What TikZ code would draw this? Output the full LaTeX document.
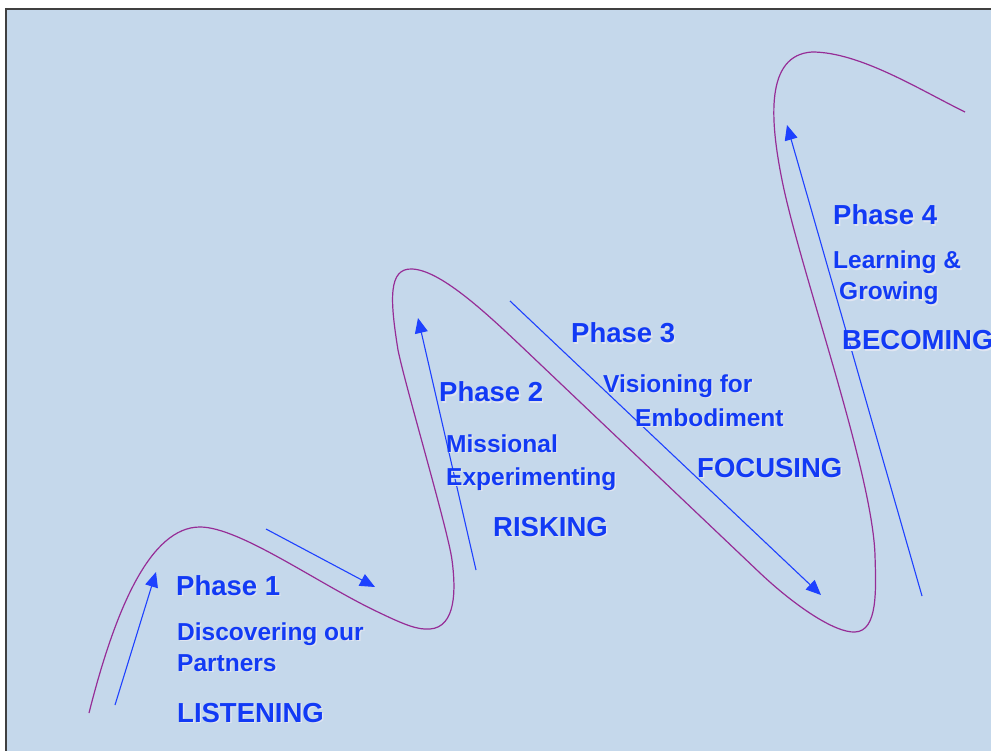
\documentclass[tikz,border=0pt]{standalone}
\usepackage{fontspec}
\setmainfont{Liberation Sans}
\usetikzlibrary{arrows.meta}

\definecolor{panelbg}{RGB}{197,216,235}
\definecolor{inkblue}{RGB}{18,58,245}
\definecolor{flowblue}{RGB}{30,65,255}
\definecolor{pathpurple}{RGB}{150,45,150}
\definecolor{glow}{RGB}{224,229,240}
\definecolor{framegray}{RGB}{64,64,64}

% text with a soft light drop shadow
\newcommand{\shadowed}[1]{\makebox[0pt][l]{\hspace{1.4pt}\raisebox{-1.4pt}{\textcolor{glow}{#1}}}#1}

\tikzset{
  phase/.style={anchor=base west, inner sep=0pt, text=inkblue,
    font=\fontsize{27.5}{30}\selectfont\bfseries},
  detail/.style={phase, font=\fontsize{24.5}{28}\selectfont\bfseries},
  keyword/.style={phase},
  flow/.style={draw=flowblue, line width=1.1pt,
    -{Triangle[length=15pt,width=13pt]}},
  wave/.style={draw=pathpurple, line width=1.2pt},
}

\begin{document}
\begin{tikzpicture}[x=1pt,y=-1pt]
  \useasboundingbox (0,0) rectangle (991,751);
  \clip (0,0) rectangle (991,751);
  \fill[white] (0,0) rectangle (991,751);
  \fill[panelbg] (7,9.5) rectangle (991,751);
  \draw[framegray, line width=1.6pt] (5,8.8) -- (991,8.8);
  \draw[framegray, line width=2pt] (6,8) -- (6,751);

  % the rising wave through the four phases
  \draw[wave] (89,713)
    .. controls (115,610) and (150,527) .. (200,527)
    .. controls (240,527) and (320,585) .. (380,613)
    .. controls (405,625) and (418,630) .. (430,629)
    .. controls (456,627) and (456,590) .. (452,560)
    .. controls (448,530) and (405,385) .. (398,350)
    .. controls (390,300) and (388,268) .. (412,269)
    .. controls (440,270) and (485,312) .. (520,345)
    -- (760,573)
    .. controls (795,606) and (835,633) .. (855,632)
    .. controls (878,631) and (876,590) .. (875,555)
    .. controls (872,470) and (800,270) .. (782,180)
    .. controls (770,120) and (765,55) .. (812,52)
    .. controls (860,52) and (920,90) .. (965,112);

  % direction arrows
  \coordinate (a1s) at (115,705); \coordinate (a1e) at (156,572);
  \coordinate (a2s) at (266,529); \coordinate (a2e) at (375,587);
  \coordinate (a3s) at (476,570); \coordinate (a3e) at (418,318);
  \coordinate (a4s) at (510,301); \coordinate (a4e) at (821,595);
  \coordinate (a5s) at (922,596); \coordinate (a5e) at (787,125);
  \draw[flow] (a1s) -- (a1e);
  \draw[flow] (a2s) -- (a2e);
  \draw[flow] (a3s) -- (a3e);
  \draw[flow] (a4s) -- (a4e);
  \draw[flow] (a5s) -- (a5e);

  % phase 1
  \node[phase]   (p1)  at (176,595) {\shadowed{Phase 1}};
  \node[detail]  (p1a) at (177,640) {\shadowed{Discovering our}};
  \node[detail]  (p1b) at (177,671) {\shadowed{Partners}};
  \node[keyword] (p1k) at (177,722) {\shadowed{LISTENING}};

  % phase 2
  \node[phase]   (p2)  at (439,402) {\shadowed{Phase 2}};
  \node[detail]  (p2a) at (446,452) {\shadowed{Missional}};
  \node[detail]  (p2b) at (446,485) {\shadowed{Experimenting}};
  \node[keyword] (p2k) at (493,536) {\shadowed{RISKING}};

  % phase 3
  \node[phase]   (p3)  at (571,343) {\shadowed{Phase 3}};
  \node[detail]  (p3a) at (603,392) {\shadowed{Visioning for}};
  \node[detail]  (p3b) at (635,426) {\shadowed{Embodiment}};
  \node[keyword] (p3k) at (697,477) {\shadowed{FOCUSING}};

  % phase 4
  \node[phase]   (p4)  at (833,225) {\shadowed{Phase 4}};
  \node[detail]  (p4a) at (833,269) {\shadowed{Learning \&}};
  \node[detail]  (p4b) at (839,300) {\shadowed{Growing}};
  \node[keyword] (p4k) at (842,350) {\shadowed{BECOMING}};
\end{tikzpicture}
\end{document}
